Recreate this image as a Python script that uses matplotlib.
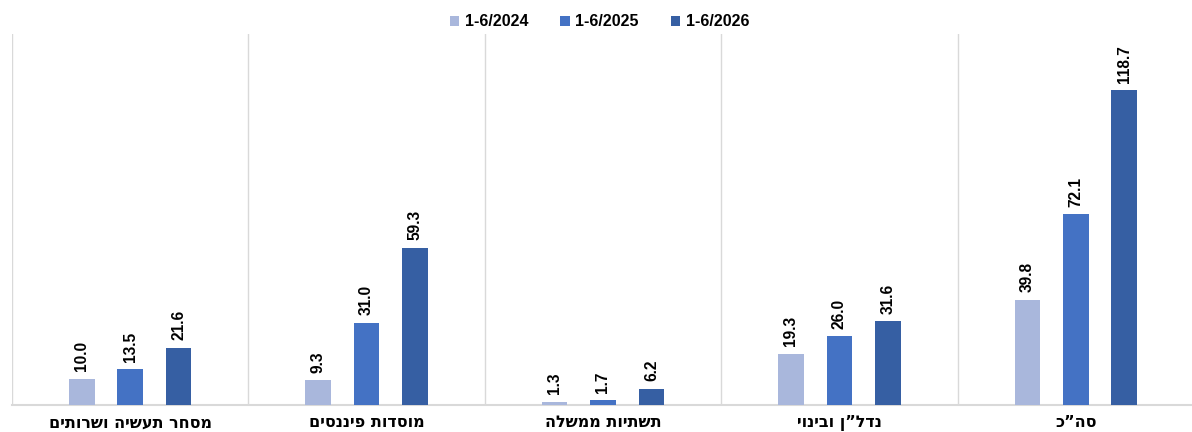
import numpy as np
import matplotlib.pyplot as plt

# categories in logical (reading) order, right to left on the chart
categories = ['סה"כ', 'נדל"ן ובינוי', "תשתיות ממשלה", "מוסדות פיננסים", "מסחר תעשיה ושרותים"]
periods = ["1-6/2024", "1-6/2025", "1-6/2026"]
v2024 = [39.8, 19.3, 1.3, 9.3, 10.0]
v2025 = [72.1, 26.0, 1.7, 31.0, 13.5]
v2026 = [118.7, 31.6, 6.2, 59.3, 21.6]

colors = ["#A9B7DC", "#4472C4", "#365FA3"]
HEB_FONT = ["DejaVu Sans"]
NUM_FONT = ["Liberation Sans", "DejaVu Sans"]


def visual(s):
    # matplotlib has no bidi support, so feed Hebrew in visual order
    return s[::-1].replace('"', "\u201d")


fig = plt.figure(figsize=(11.92, 4.32), dpi=100)
ax = fig.add_axes([12 / 1192, 27 / 432, 1182 / 1192, 371 / 432])

n = len(categories)
x = np.arange(n)[::-1]  # first category sits at the right
width = 0.108
step = 0.205

for i, (vals, lab, col) in enumerate(zip([v2024, v2025, v2026], periods, colors)):
    pos = x + (i - 1) * step
    ax.bar(pos, vals, width=width, color=col, label=lab, zorder=3)
    for xp, v in zip(pos, vals):
        ax.text(xp, v + 2.8, f"{v:.1f}", rotation=90, ha="center", va="bottom",
                fontsize=11.2, fontweight="heavy", family=NUM_FONT, color="#000000")

ax.set_xlim(-0.5, n - 0.5)
ax.set_ylim(0, 140)
ax.set_yticks([])
ax.set_xticks(x)
ax.set_xticklabels([visual(c) for c in categories], fontsize=11.5,
                   fontweight="bold", family=HEB_FONT)
ax.tick_params(axis="x", length=0, pad=7.5)

# category separators
for b in np.arange(n + 1) - 0.5:
    ax.axvline(b, color="#D9D9D9", lw=1, zorder=1)

for s in ["top", "right", "left"]:
    ax.spines[s].set_visible(False)
ax.spines["bottom"].set_color("#D9D9D9")
ax.spines["bottom"].set_linewidth(1.5)

leg = fig.legend(loc="upper center", bbox_to_anchor=(0.503, 1.0), ncol=3,
                 frameon=False, handlelength=0.6, handleheight=0.6,
                 handletextpad=0.35, columnspacing=2.0,
                 prop={"weight": "bold", "size": 11.5, "family": NUM_FONT})

fig.savefig("out.png", dpi=100)
